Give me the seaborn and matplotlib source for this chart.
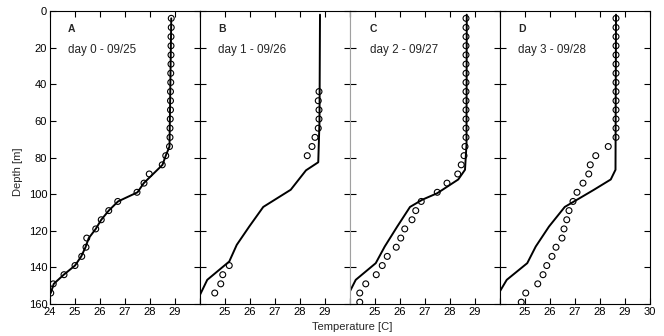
import matplotlib
matplotlib.use("Agg")
import matplotlib.pyplot as plt
import seaborn as sns
import pandas as pd

# ----------------------------------------------------------
# data
# ----------------------------------------------------------

depth_obs = [4, 9, 14, 19, 24, 29, 34, 39, 44, 49, 54, 59, 64, 69, 74, 79,
             84, 89, 94, 99, 104, 109, 114, 119, 124, 129, 134, 139, 144, 149,
             154, 159]

temp_obs_a = [28.85, 28.85, 28.84, 28.84, 28.84, 28.84, 28.83, 28.83, 28.82,
              28.82, 28.82, 28.81, 28.80, 28.80, 28.78, 28.63, 28.49, 27.97,
              27.76, 27.48, 26.71, 26.35, 26.05, 25.83, 25.47, 25.44, 25.27,
              25.00, 24.56, 24.13, 24.03]
depth_mod_a = [4, 74, 79, 84, 94, 99, 104, 109, 114, 119, 124, 129, 134, 139,
               144, 149, 154]
temp_mod_a = [28.85, 28.78, 28.63, 28.50, 27.75, 27.50, 26.72, 26.35, 26.05,
              25.83, 25.55, 25.42, 25.25, 25.00, 24.55, 24.15, 24.03]

depth_obs_b = [44, 49, 54, 59, 64, 69, 74, 79, 139, 144, 149, 154]
temp_obs_b = [28.76, 28.73, 28.76, 28.76, 28.73, 28.60, 28.48, 28.29, 25.17,
              24.91, 24.83, 24.59]
depth_mod_b = [2, 60, 82.6, 87, 97.6, 107, 117.7, 127.7, 136.8, 146.8, 155, 160]
temp_mod_b = [28.80, 28.78, 28.73, 28.24, 27.63, 26.53, 25.97, 25.47, 25.17,
              24.29, 24.00, 23.80]

temp_obs_c = [28.64, 28.64, 28.64, 28.64, 28.64, 28.64, 28.64, 28.64, 28.64,
              28.64, 28.64, 28.64, 28.64, 28.64, 28.60, 28.56, 28.45, 28.31,
              27.88, 27.49, 26.85, 26.63, 26.48, 26.19, 26.03, 25.85, 25.49,
              25.29, 25.05, 24.63, 24.39, 24.39]
depth_mod_c = [2, 73, 86.7, 92, 99.5, 103, 107, 117.7, 128.6, 137.7, 146.8,
               153, 160]
temp_mod_c = [28.67, 28.66, 28.60, 28.33, 27.49, 26.90, 26.40, 25.89, 25.39,
              25.03, 24.23, 24.00, 23.80]

temp_obs_d = [28.64, 28.64, 28.64, 28.64, 28.64, 28.64, 28.64, 28.64, 28.64,
              28.64, 28.64, 28.64, 28.64, 28.64, 28.33, 27.83, 27.61, 27.55,
              27.32, 27.08, 26.92, 26.76, 26.67, 26.56, 26.48, 26.24, 26.08,
              25.87, 25.72, 25.51, 25.03, 24.85]
depth_mod_d = [2, 86.7, 92, 97.6, 107, 117.7, 128.6, 137.7, 146.8, 153, 160]
temp_mod_d = [28.64, 28.62, 28.43, 27.76, 26.59, 25.96, 25.43, 25.09, 24.27,
              24.00, 23.80]

panel_letters = ["A", "B", "C", "D"]
panel_titles = ["day 0 - 09/25", "day 1 - 09/26", "day 2 - 09/27",
                "day 3 - 09/28"]
x_ticks = [24, 25, 26, 27, 28, 29, 30]
y_ticks = [0, 20, 40, 60, 80, 100, 120, 140, 160]

# ----------------------------------------------------------
# plotting
# ----------------------------------------------------------


def draw_panel(ax, obs, mod, letter, title, idx):
    sns.lineplot(data=mod, x="temp", y="depth", sort=False, estimator=None,
                 color="black", linewidth=1.4, ax=ax)
    sns.scatterplot(data=obs, x="temp", y="depth", marker="o", s=18,
                    facecolor="none", edgecolor="black", linewidth=0.8, ax=ax,
                    zorder=3)
    ax.set_xlim(24, 30)
    ax.set_ylim(160, 0)
    ax.set_xticks(x_ticks)
    labels = [str(t) for t in x_ticks]
    if idx > 0:
        labels[0] = ""
    if idx < 3:
        labels[-1] = ""
    ax.set_xticklabels(labels)
    ax.set_yticks(y_ticks)
    if idx > 0:
        ax.set_yticklabels([])
    ax.set_xlabel("")
    ax.set_ylabel("")
    ax.tick_params(direction="in", length=4, width=0.8, top=True, right=True,
                   labelsize=8, pad=2, colors="black")
    for sp in ax.spines.values():
        sp.set_visible(True)
        sp.set_color("black")
        sp.set_linewidth(0.8)
    tx = 24.72 if idx != 2 else 24.8
    ax.text(tx, 10, letter, fontsize=7.5, fontweight="bold", va="center",
            ha="left")
    ax.text(tx, 21.3, title, fontsize=8.4, va="center", ha="left")


def main():
    sns.set_style("ticks")
    plt.rcParams["font.family"] = ["Liberation Sans", "DejaVu Sans"]

    fig = plt.figure(figsize=(6.64, 3.36), dpi=100)
    left0 = 50 / 664
    width = 150 / 664
    bottom = 32 / 336
    height = 293 / 336

    obs_sets = [
        pd.DataFrame({"temp": temp_obs_a, "depth": depth_obs[:31]}),
        pd.DataFrame({"temp": temp_obs_b, "depth": depth_obs_b}),
        pd.DataFrame({"temp": temp_obs_c, "depth": depth_obs}),
        pd.DataFrame({"temp": temp_obs_d, "depth": depth_obs}),
    ]
    mod_sets = [
        pd.DataFrame({"temp": temp_mod_a, "depth": depth_mod_a}),
        pd.DataFrame({"temp": temp_mod_b, "depth": depth_mod_b}),
        pd.DataFrame({"temp": temp_mod_c, "depth": depth_mod_c}),
        pd.DataFrame({"temp": temp_mod_d, "depth": depth_mod_d}),
    ]

    axes = []
    for i in range(4):
        ax = fig.add_axes([left0 + i * width, bottom, width, height])
        draw_panel(ax, obs_sets[i], mod_sets[i], panel_letters[i],
                   panel_titles[i], i)
        axes.append(ax)

    # grey boundary between B and C
    axes[1].spines["right"].set_color("#a0a0a0")
    axes[2].spines["left"].set_color("#a0a0a0")

    fig.text(18 / 664, 1 - 172 / 336, "Depth [m]", rotation=90, fontsize=8,
             ha="center", va="center")
    fig.text(352 / 664, 1 - 327 / 336, "Temperature [C]", fontsize=8,
             ha="center", va="center")

    fig.savefig("out.png", dpi=100)


if __name__ == '__main__':
    main()
